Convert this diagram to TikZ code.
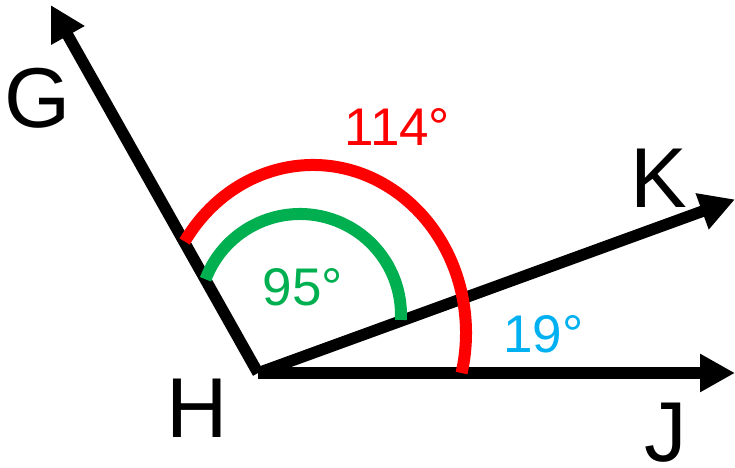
\documentclass[tikz,border=0pt]{standalone}
\usepackage{fontspec}
\setmainfont{Liberation Sans}
\usetikzlibrary{arrows.meta}
\definecolor{arcred}{HTML}{FF0000}
\definecolor{arcgreen}{HTML}{00B050}
\definecolor{lblblue}{HTML}{00B0F0}
\tikzset{
  ray/.style={line width=11.5bp, line cap=butt, -{Triangle[length=35bp,width=36bp]}},
  bigletter/.style={inner sep=0pt, font=\fontsize{85bp}{90bp}\selectfont},
  anglabel/.style={inner sep=0pt, font=\fontsize{53bp}{58bp}\selectfont},
  arcline/.style={line width=12bp, line cap=butt}
}
\begin{document}
\begin{tikzpicture}[x=1bp,y=1bp]
\useasboundingbox (0,0) rectangle (735,468);
% vertex and ray ends
\coordinate (H) at (258,95);
\coordinate (Gt) at (50.7,463);
\coordinate (Kt) at (735,268.6);
\coordinate (Jt) at (735,95);
% rays
\draw[ray] (H) -- (Gt);
\draw[ray] (H) -- (Kt);
\draw[ray] (H) -- (Jt);
% angle arcs
\draw[arcline, arcred] ([shift={(147:153bp and 168bp)}]313,135)
  arc[start angle=147, end angle=-13.8, x radius=153bp, y radius=168bp];
\draw[arcline, arcgreen] ([shift={(159.3:101bp)}]300,153)
  arc[start angle=159.3, end angle=-2.8, radius=101bp];
% labels
\node[bigletter] (lG) at (38,369.5) {G};
\node[bigletter] (lH) at (197,59.5) {H};
\node[bigletter] (lK) at (659,290) {K};
\node[bigletter] (lJ) at (665.5,35.5) {J};
\node[anglabel, text=arcred] (a114) at (397.3,340.5) {114°};
\node[anglabel, text=arcgreen] (a95) at (303,180.5) {95°};
\node[anglabel, text=lblblue] (a19) at (543.3,134) {19°};
\end{tikzpicture}
\end{document}
